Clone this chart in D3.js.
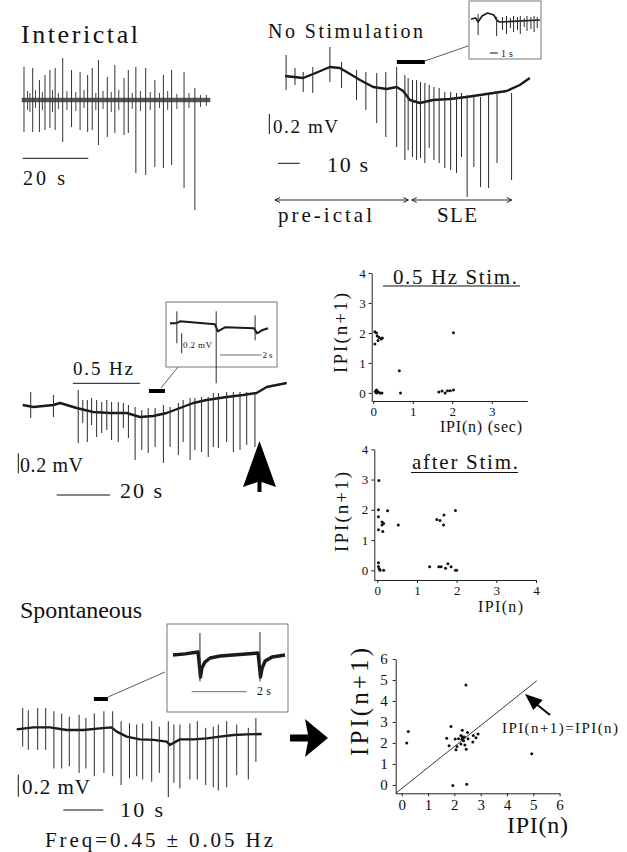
<!DOCTYPE html>
<html>
<head>
<meta charset="utf-8">
<script src="https://cdn.jsdelivr.net/npm/d3@7"></script>
<style>
  body { margin: 0; background: #fff; }
  svg { display: block; }
  text { font-family: "Liberation Serif", "DejaVu Serif", serif; fill: #111; }
</style>
</head>
<body>
<svg id="chart" width="627" height="852"></svg>
<script>
// SVG base setup
const svg = d3.select("#chart");

// ---------- trace data ----------
// baselines: [time (s), mV] ; spikes: [time (s), peak mV, trough mV]
const interictalBase = [[0, 0], [57.5, 0]];
const interictalSpikes = [
  [0.7, 0.33, -0.32], [3.35, 0.32, -0.32], [5.4, 0.2, -0.32], [7.1, 0.25, -0.3],
  [8.6, 0.3, -0.28], [10.2, 0.32, -0.3], [12.5, 0.42, -0.42], [15.2, 0.3, -0.27],
  [17.8, 0.28, -0.3], [20.1, 0.25, -0.32], [21.5, 0.32, -0.3], [23.4, 0.4, -0.45],
  [26.1, 0.23, -0.37], [28.4, 0.35, -0.33], [31.2, 0.22, -0.35], [32.5, 0.3, -0.33],
  [34.8, 0.33, -0.73], [37.8, 0.32, -0.75], [40.6, 0.2, -0.67], [43.2, 0.25, -0.68],
  [45.7, 0.3, -0.65], [49.5, 0.28, -0.88], [52.8, 0.12, -1.1]
];
const interictalMinor = [
  [1.8, 0.09, -0.1], [2.5, 0.07, -0.12], [4.2, 0.1, -0.08], [6.3, 0.08, -0.1],
  [9.4, 0.1, -0.12], [11.2, 0.07, -0.09], [13.8, 0.09, -0.1], [16.5, 0.08, -0.11],
  [19.0, 0.1, -0.08], [22.6, 0.07, -0.1], [24.8, 0.09, -0.09], [27.3, 0.08, -0.12],
  [29.6, 0.1, -0.1], [33.7, 0.07, -0.09], [36.2, 0.09, -0.11], [39.2, 0.08, -0.1],
  [42.0, 0.07, -0.08], [44.5, 0.09, -0.1], [47.3, 0.06, -0.09], [51.0, 0.07, -0.08],
  [54.5, 0.05, -0.07], [56.3, 0.05, -0.06]
];

const noStimBase = [
  [0, 0.14], [8.4, 0.12], [13, 0.16], [20.7, 0.23], [25.3, 0.22], [30, 0.16],
  [34.6, 0.1], [40.7, 0.03], [46.9, 0.01], [51.5, 0.03], [54.5, -0.01], [57.6, -0.1],
  [62.2, -0.13], [68.3, -0.1], [76, -0.09], [83.7, -0.07], [93, -0.04],
  [102.2, -0.01], [108.3, 0.05], [112.9, 0.12]
];
const noStimSpikes = [
  [0.5, 0.35, 0.0], [4.6, 0.22, 0.05], [8.4, 0.18, -0.02], [12.8, 0.23, -0.03],
  [20.7, 0.43, 0.08], [26.1, 0.28, 0.02], [33.0, 0.2, -0.1], [37.3, 0.18, -0.2],
  [42.3, 0.17, -0.33], [46.5, 0.18, -0.47], [51.5, 0.23, -0.57], [55.3, 0.15, -0.7],
  [56.8, 0.12, -0.6], [58.8, 0.1, -0.67], [60.7, 0.1, -0.7], [62.5, 0.08, -0.68],
  [64.5, 0.07, -0.73], [66.5, 0.05, -0.58], [68.7, 0.03, -0.7], [71.1, 0.02, -0.73],
  [73.7, -0.02, -0.78], [76.4, -0.02, -0.8], [79.1, -0.03, -0.83], [81.4, -0.03, -0.67],
  [84.0, -0.05, -1.07], [87.1, -0.05, -0.77], [90.2, -0.07, -0.97], [93.9, -0.05, -0.98],
  [97.8, -0.03, -0.73], [104.5, -0.03, -0.9]
];
const noStimInsetBase = [
  [0, 0.03], [0.6, 0.04], [0.9, 0.0], [1.4, 0.06], [2.1, 0.09], [2.9, 0.07],
  [3.25, 0.02], [3.6, 0.0], [8.75, 0.02]
];
const noStimInsetSpikes = [
  [0.9, 0.08, -0.13], [3.25, 0.05, -0.14], [4.0, 0.05, -0.08], [4.5, 0.06, -0.12],
  [5.0, 0.04, -0.06], [5.4, 0.06, -0.1], [5.9, 0.05, -0.08], [6.25, 0.06, -0.12],
  [6.75, 0.04, -0.05], [7.1, 0.06, -0.09], [7.6, 0.05, -0.07], [8.0, 0.06, -0.1],
  [8.4, 0.05, -0.06]
];

const stimBase = [
  [0, 0.05], [4.0, 0.03], [11.5, 0.05], [14, 0.07], [20.2, 0.02], [26.4, -0.02],
  [32.6, -0.03], [39, -0.03], [43.9, -0.07], [48.9, -0.06], [53.9, -0.03],
  [58.9, 0.02], [63.9, 0.07], [68.9, 0.1], [76.4, 0.13], [82.6, 0.15],
  [87.6, 0.17], [91.4, 0.23], [95.1, 0.25], [98.9, 0.27]
];
const stimSpikes = [
  [3.0, 0.18, -0.08], [11.5, 0.15, -0.07], [20.8, 0.2, -0.33], [22.5, 0.1, -0.13],
  [24.2, 0.1, -0.32], [25.8, 0.12, -0.15], [27.7, 0.1, -0.27], [29.6, 0.08, -0.23],
  [31.5, 0.1, -0.2], [33.3, 0.08, -0.3], [35.8, 0.08, -0.32], [37.7, 0.07, -0.18],
  [39.6, 0.05, -0.28], [42.1, 0.03, -0.5], [44.6, 0.0, -0.4], [47.0, 0.02, -0.43],
  [49.6, 0.02, -0.37], [52.7, 0.05, -0.53], [55.2, 0.03, -0.37], [58.3, 0.07, -0.45],
  [60.1, 0.1, -0.32], [62.7, 0.12, -0.5], [64.5, 0.12, -0.4], [67.0, 0.13, -0.42],
  [69.5, 0.13, -0.47], [71.4, 0.17, -0.37], [73.3, 0.17, -0.38], [76.4, 0.18, -0.32],
  [78.9, 0.18, -0.42], [81.4, 0.18, -0.4], [83.9, 0.18, -0.35], [87.0, 0.18, -0.37]
];
const stimInsetBase = [
  [0, 0.0], [0.29, 0.0], [0.48, 0.02], [2.16, -0.01], [2.3, -0.08], [2.64, -0.04],
  [4.04, -0.05], [4.18, -0.1], [4.42, -0.07], [4.71, -0.05]
];
const stimInsetSpikes = [[0.33, 0.12, -0.2], [2.22, 0.12, -0.6], [4.09, 0.08, -0.17]];

const spontBase = [
  [0, 0.006], [4.2, 0.024], [8.3, 0.024], [12.5, 0], [16.7, 0], [20.8, 0.015],
  [23.7, 0.024], [25, -0.015], [27.5, -0.06], [30.8, -0.085], [34.2, -0.09],
  [37.5, -0.106], [38.3, -0.136], [40.8, -0.085], [44.2, -0.085], [47.5, -0.076],
  [50.8, -0.06], [54.2, -0.045], [57.5, -0.04], [61.25, -0.036]
];
const spontSpikes = [
  [1.5, 0.2, -0.15], [2.9, 0.18, -0.18], [5.25, 0.2, -0.18], [7.25, 0.2, -0.18],
  [9.3, 0.17, -0.35], [11.25, 0.15, -0.35], [13.15, 0.12, -0.33], [15.6, 0.14, -0.39],
  [17.3, 0.11, -0.35], [19.4, 0.15, -0.42], [21.8, 0.17, -0.39], [24.0, 0.17, -0.42],
  [26.1, 0.08, -0.5], [28.2, 0.06, -0.44], [30.0, 0.05, -0.42], [31.5, 0.06, -0.45],
  [33.75, 0.08, -0.47], [35.65, 0.03, -0.39], [37.9, 0.08, -0.61], [39.3, 0.05, -0.48],
  [40.8, 0.05, -0.53], [43.3, 0.06, -0.45], [45.15, 0.08, -0.45], [47.25, 0.02, -0.5],
  [49.15, 0.03, -0.52], [50.4, 0.05, -0.55], [52.5, 0.08, -0.52], [55.0, 0.05, -0.41],
  [57.9, 0.02, -0.45], [59.8, 0.11, -0.29]
];
const spontInsetBase = [
  [0, 0], [0.44, 0.01], [0.91, 0.027], [1.0, -0.2], [1.05, -0.118], [1.16, -0.064],
  [1.35, -0.027], [1.71, -0.009], [3.09, 0.018], [3.18, -0.2], [3.24, -0.118],
  [3.35, -0.055], [3.6, -0.018], [4.07, 0]
];
const spontInsetSpikes = [[0.98, 0.2, -0.24], [3.16, 0.21, -0.24]];

// ---------- return-map data: [IPI(n), IPI(n+1)] in s ----------
const stimIPI = [
  [0.04, 2.04], [0.08, 2.0], [0.1, 1.9], [0.15, 1.85], [0.2, 1.8], [0.23, 1.83],
  [0.04, 1.63], [0.12, 1.75], [0.66, 0.74], [0.69, 0.0],
  [0.05, 0.05], [0.08, 0.1], [0.1, 0.06], [0.13, 0.02], [0.17, 0.0], [0.22, 0.0], [0.08, 0.0],
  [2.03, 2.01], [1.66, 0.03], [1.74, 0.06], [1.82, 0.0], [1.88, 0.07], [1.95, 0.07], [2.03, 0.1]
];
const afterIPI = [
  [0.04, 2.97], [0.03, 2.0], [0.03, 1.77], [0.03, 1.34], [0.12, 1.6], [0.12, 1.5],
  [0.16, 1.55], [0.14, 1.28], [0.26, 1.97], [0.53, 1.5],
  [0.03, 0.25], [0.03, 0.13], [0.07, 0.0], [0.16, 0.0], [0.05, 0.05],
  [1.32, 0.12], [1.5, 1.68], [1.58, 1.65], [1.68, 1.83], [1.67, 1.5], [1.97, 1.98],
  [1.55, 0.12], [1.61, 0.12], [1.72, 0.07], [1.78, 0.22], [1.86, 0.12], [1.97, 0.0], [2.0, 0.0]
];
const spontIPI = [
  [0.19, 2.0], [0.25, 2.54], [1.87, 2.78], [1.71, 2.22], [1.8, 1.87], [2.03, 2.19],
  [2.06, 1.67], [2.1, 1.83], [2.16, 2.2], [2.29, 2.17], [2.25, 2.35], [2.33, 2.25],
  [2.3, 2.3], [2.38, 2.28], [2.5, 2.5], [2.4, 1.9], [2.45, 1.7], [2.52, 2.2],
  [2.25, 1.95], [2.35, 2.1], [2.3, 2.6], [2.82, 2.25], [2.9, 2.43], [2.7, 2.05],
  [2.72, 2.35], [2.44, 4.76], [1.94, -0.03], [2.47, 0.03], [4.94, 1.48]
];
const unityLine = [[-0.23, -0.4], [5.13, 4.96]];

const ticks4 = [0, 1, 2, 3, 4];
const ticks3 = [0, 1, 2, 3];
const ticks6 = [0, 1, 2, 3, 4, 5, 6];

// ---------- helpers ----------
function label(txt, x, y, size, len, anchor) {
  const t = svg.append("text").attr("x", x).attr("y", y)
    .attr("font-size", size).attr("text-anchor", anchor || "start").text(txt);
  if (len) t.attr("textLength", len).attr("lengthAdjust", "spacing");
  return t;
}

function vlabel(txt, cx, cy, size, len) {
  svg.append("text")
    .attr("transform", `translate(${cx},${cy}) rotate(-90)`)
    .attr("text-anchor", "middle").attr("font-size", size)
    .attr("textLength", len).attr("lengthAdjust", "spacing")
    .text(txt);
}

function seg(x1, y1, x2, y2, w, c) {
  svg.append("line").attr("x1", x1).attr("y1", y1).attr("x2", x2).attr("y2", y2)
    .attr("stroke", c || "#111").attr("stroke-width", w || 1);
}

// draw one recording: thick noisy baseline + spike lines
function drawTrace(p, base, spikes, opt) {
  opt = opt || {};
  const x = d3.scaleLinear().domain(p.t).range(p.x);
  const y = d3.scaleLinear().domain([0, 1]).range([p.y0, p.y0 - p.pxPerMv]);
  const g = svg.append("g");
  g.append("path").datum(base)
    .attr("d", d3.line().x(d => x(d[0])).y(d => y(d[1])))
    .attr("fill", "none").attr("stroke", opt.baseColor || "#1a1a1a")
    .attr("stroke-width", opt.baseWidth || 2.2).attr("stroke-linejoin", "round");
  g.selectAll("line").data(spikes).join("line")
    .attr("x1", d => x(d[0])).attr("x2", d => x(d[0]))
    .attr("y1", d => y(d[1])).attr("y2", d => y(d[2]))
    .attr("stroke", opt.spikeColor || "#2a2a2a").attr("stroke-width", opt.spikeWidth || 1);
  return { x, y };
}

function drawScatter(p, pts) {
  const x = d3.scaleLinear().domain(p.xd).range(p.xr);
  const y = d3.scaleLinear().domain(p.yd).range(p.yr);
  const g = svg.append("g");
  const xa = g.append("g").attr("transform", `translate(0,${p.yr[0]})`)
    .call(d3.axisBottom(x).tickValues(p.xt).tickFormat(d3.format("d"))
      .tickSize(3).tickSizeOuter(0).tickPadding(3));
  const ya = g.append("g").attr("transform", `translate(${p.xr[0]},0)`)
    .call(d3.axisLeft(y).tickValues(p.yt).tickFormat(d3.format("d"))
      .tickSize(3).tickSizeOuter(0).tickPadding(p.ypad || 3));
  [xa, ya].forEach(a => {
    a.attr("font-family", null);
    a.selectAll("text").attr("font-size", p.fs).attr("fill", "#111");
    a.selectAll("path,line").attr("stroke", "#222");
  });
  g.selectAll("circle").data(pts).join("circle")
    .attr("cx", d => x(d[0])).attr("cy", d => y(d[1]))
    .attr("r", p.r).attr("fill", "#111");
  return { x, y };
}

// ---------- Interictal ----------
label("Interictal", 21, 43, 26, 117);
const inter = drawTrace({ t: [0, 57.5], x: [21.7, 210.3], y0: 100, pxPerMv: 100 },
  interictalBase, interictalSpikes, { baseWidth: 4.5, baseColor: "#555", spikeColor: "#333" });
svg.append("g").selectAll("line").data(interictalMinor).join("line")
  .attr("x1", d => inter.x(d[0])).attr("x2", d => inter.x(d[0]))
  .attr("y1", d => inter.y(d[1])).attr("y2", d => inter.y(d[2]))
  .attr("stroke", "#444").attr("stroke-width", 1);
seg(inter.x(0) + 1, 158.3, inter.x(20) + 1, 158.3, 1);
label("20 s", 23, 185, 20, 42);

// ---------- No Stimulation ----------
label("No Stimulation", 268, 38, 20, 155);
const ns = drawTrace({ t: [0, 113], x: [285, 530], y0: 90, pxPerMv: 100 },
  noStimBase, noStimSpikes, { baseWidth: 2.4 });
svg.append("rect").attr("x", ns.x(51.6)).attr("y", 60)
  .attr("width", ns.x(64.5) - ns.x(51.6)).attr("height", 4).attr("fill", "#000");
seg(ns.x(64.5), 61, 468, 46, 0.8, "#333");
svg.append("rect").attr("x", 469).attr("y", 1).attr("width", 72).attr("height", 58)
  .attr("fill", "#fff").attr("stroke", "#555").attr("stroke-width", 0.8);
const nsIn = drawTrace({ t: [0, 8.75], x: [471, 540], y0: 22, pxPerMv: 100 },
  noStimInsetBase, noStimInsetSpikes, { baseWidth: 1.6 });
seg(nsIn.x(2.4), 53, nsIn.x(3.4), 53, 1);
label("1 s", 501, 56.5, 10, 12);
// 0.2 mV and 10 s bars
seg(269.3, ns.y(-0.44), 269.3, ns.y(-0.24), 1);
label("0.2 mV", 273, 133, 19, 65);
seg(278, 163.3, 278 + ns.x(10) - ns.x(0), 163.3, 1);
label("10 s", 327, 172, 22, 41);
// pre-ictal / SLE arrows
function dblArrow(x1, x2, yv) {
  seg(x1, yv, x2, yv, 0.9);
  svg.append("path").attr("d", `M${x1 + 5},${yv - 2.5}L${x1},${yv}L${x1 + 5},${yv + 2.5}M${x2 - 5},${yv - 2.5}L${x2},${yv}L${x2 - 5},${yv + 2.5}`)
    .attr("fill", "none").attr("stroke", "#111").attr("stroke-width", 0.9);
}
dblArrow(275, 408.3, 200);
dblArrow(411.7, 511.7, 200);
label("pre-ictal", 278, 222, 21, 94);
label("SLE", 437, 222, 21, 40);

// ---------- 0.5 Hz stimulation ----------
const st = drawTrace({ t: [0, 99], x: [22.7, 287], y0: 410, pxPerMv: 100 },
  stimBase, stimSpikes, { baseWidth: 2.4 });
label("0.5 Hz", 73, 375, 19, 60);
seg(st.x(18.8), 383.3, st.x(44), 383.3, 1);
svg.append("rect").attr("x", st.x(47.3)).attr("y", 389)
  .attr("width", st.x(53.3) - st.x(47.3)).attr("height", 4).attr("fill", "#000");
seg(161, 388, 178, 367, 0.8, "#333");
svg.append("rect").attr("x", 166).attr("y", 302).attr("width", 111).attr("height", 65)
  .attr("fill", "#fff").attr("stroke", "#555").attr("stroke-width", 0.8);
const stIn = drawTrace({ t: [0, 4.71], x: [170, 268], y0: 323.3, pxPerMv: 100 },
  stimInsetBase, stimInsetSpikes, { baseWidth: 2 });
seg(181.7, stIn.y(-0.1), 181.7, stIn.y(-0.3), 0.9);
label("0.2 mV", 183, 348, 9, 29);
seg(220, 355, 220 + stIn.x(2) - stIn.x(0), 355, 0.8, "#444");
label("2 s", 262.5, 357.5, 9, 10);
seg(18.3, st.y(-0.433), 18.3, st.y(-0.633), 1);
label("0.2 mV", 20, 472, 20, 63);
seg(56.7, 495, 56.7 + st.x(20) - st.x(0), 495, 1);
label("20 s", 120, 498, 22, 42);
// big up arrow
svg.append("path")
  .attr("d", "M259.5,441L276,487L261.5,482L261.5,492L257.5,492L257.5,482L243,487Z")
  .attr("fill", "#000");

// ---------- return maps ----------
const s1 = drawScatter({ xd: [-0.04, 3.9], xr: [371.7, 527.3], yd: [-0.27, 4], yr: [401, 273],
  xt: ticks3, yt: ticks4, fs: 13, r: 1.5 }, stimIPI);
label("0.5 Hz Stim.", 393, 284, 21, 124);
seg(383, 286, 520, 286, 1.2);
label("IPI(n) (sec)", 440, 432, 16, 82);
vlabel("IPI(n+1)", 347, 333, 19, 80);

const s2 = drawScatter({ xd: [-0.075, 4.0], xr: [374.3, 536], yd: [-0.32, 4], yr: [580, 449.3],
  xt: ticks4, yt: ticks4, fs: 13, r: 1.5 }, afterIPI);
label("after Stim.", 412, 469, 21, 106);
seg(411, 472.5, 518, 472.5, 1.2);
label("IPI(n)", 478, 612, 16, 45);
vlabel("IPI(n+1)", 348, 512, 19, 80);

// ---------- Spontaneous ----------
label("Spontaneous", 20, 618, 24, 122);
const sp = drawTrace({ t: [0, 61.25], x: [16.7, 261.7], y0: 730, pxPerMv: 110 },
  spontBase, spontSpikes, { baseWidth: 2.4 });
svg.append("rect").attr("x", sp.x(19.3)).attr("y", 697)
  .attr("width", sp.x(22.8) - sp.x(19.3)).attr("height", 4).attr("fill", "#000");
seg(108, 697, 165, 672, 0.8, "#333");
svg.append("rect").attr("x", 167).attr("y", 624).attr("width", 121).attr("height", 88)
  .attr("fill", "#fff").attr("stroke", "#555").attr("stroke-width", 0.8);
const spIn = drawTrace({ t: [0, 4.07], x: [173, 285], y0: 655, pxPerMv: 110 },
  spontInsetBase, spontInsetSpikes, { baseWidth: 3.4 });
seg(191.7, 691.7, 191.7 + spIn.x(2) - spIn.x(0), 691.7, 0.8, "#444");
label("2 s", 257, 695, 12, 14);
seg(18.3, sp.y(-0.606), 18.3, sp.y(-0.406), 1);
label("0.2 mV", 22, 794, 21, 68);
seg(63.3, 810, 63.3 + sp.x(10) - sp.x(0), 810, 1);
label("10 s", 120, 817, 22, 43);
label("Freq=0.45 \u00b1 0.05 Hz", 45, 847, 21, 228);
// big right arrow
svg.append("path")
  .attr("d", "M328,738L305,757L308,741.5L290,741.5L290,734.5L308,734.5L305,719Z")
  .attr("fill", "#000");

const s3 = drawScatter({ xd: [-0.23, 6.0], xr: [395.7, 559.6], yd: [-0.4, 6], yr: [793.3, 659],
  xt: ticks6, yt: ticks6, fs: 15, r: 1.5, ypad: 5 }, spontIPI);
svg.append("path").datum(unityLine)
  .attr("d", d3.line().x(d => s3.x(d[0])).y(d => s3.y(d[1])))
  .attr("fill", "none").attr("stroke", "#222").attr("stroke-width", 0.9);
vlabel("IPI(n+1)", 368, 702, 25, 108);
label("IPI(n)", 507, 833, 24, 61);
label("IPI(n+1)=IPI(n)", 502, 733, 15, 116);
// pointer arrow to identity line
seg(550, 715, 535, 703, 2.2);
svg.append("path").attr("d", "M525,694L542.7,700L533.3,710Z").attr("fill", "#000");
</script>
</body>
</html>
